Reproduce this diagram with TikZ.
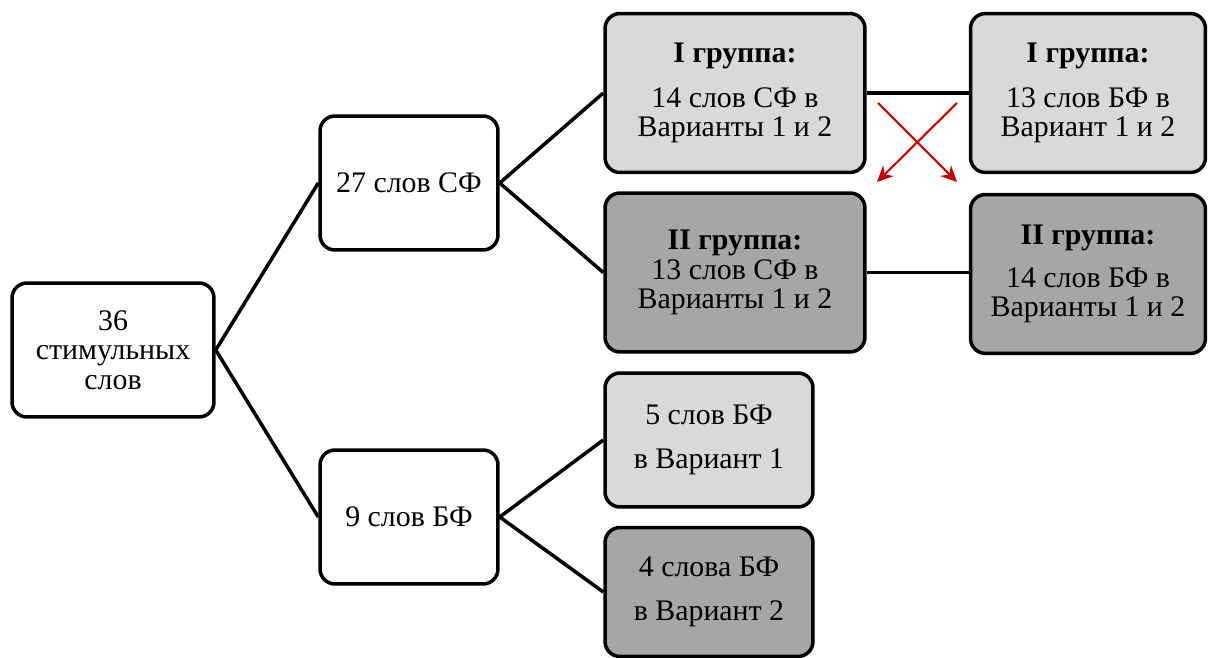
\documentclass[tikz,border=0pt]{standalone}
\usepackage{fontspec}
\setmainfont{Liberation Serif}
\usetikzlibrary{arrows.meta}
\definecolor{lightgr}{HTML}{D9D9D9}
\definecolor{darkgr}{HTML}{A6A6A6}
\definecolor{arrowred}{HTML}{C00000}
\begin{document}
\begin{tikzpicture}[x=0.02cm,y=-0.02cm,
    box/.style={draw=black,line width=2pt,rounded corners=0.3cm,align=center,
      inner sep=0pt,font=\fontsize{17}{16.8}\selectfont},
    wordbox/.style={box,fill=white,minimum width=3.56cm,minimum height=2.68cm},
    groupbox/.style={box,minimum height=3.18cm},
    link/.style={line width=2pt}]
  \useasboundingbox (0,0) rectangle (1208,658);
  % tree of boxes
  \node[box,fill=white,minimum width=4.04cm,minimum height=2.68cm] (all) at (113,350) {36\\стимульных\\слов};
  \node[wordbox] (sf) at (409,183) {27 слов СФ};
  \node[wordbox] (bf) at (409,517) {9 слов БФ};
  \node[groupbox,fill=lightgr,minimum width=5.2cm] (sfone) at (735,93) {\textbf{I группа:}\\[0.3cm]14 слов СФ в\\Варианты 1 и 2};
  \node[groupbox,fill=darkgr,minimum width=5.2cm] (sftwo) at (735,272.5) {\textbf{II группа:}\\13 слов СФ в\\Варианты 1 и 2};
  \node[groupbox,fill=lightgr,minimum width=4.7cm] (bfone) at (1088,93) {\textbf{I группа:}\\[0.3cm]13 слов БФ в\\Вариант 1 и 2};
  \node[groupbox,fill=darkgr,minimum width=4.7cm] (bftwo) at (1088,274) {\textbf{II группа:}\\[0.26cm]14 слов БФ в\\Варианты 1 и 2};
  \node[box,fill=lightgr,minimum width=4.16cm,minimum height=2.68cm] (bfvone) at (709,440) {5 слов БФ\\[0.3cm]в Вариант 1};
  \node[box,fill=darkgr,minimum width=4.16cm,minimum height=2.58cm] (bfvtwo) at (709,592) {4 слова БФ\\[0.3cm]в Вариант 2};
  % connectors
  \draw[link] (all.east) -- (sf.west);
  \draw[link] (all.east) -- (bf.west);
  \draw[link] (sf.east) -- (sfone.west);
  \draw[link] (sf.east) -- (sftwo.west);
  \draw[link] (bf.east) -- (bfvone.west);
  \draw[link] (bf.east) -- (bfvtwo.west);
  \draw[link] (sfone.east) -- (bfone.west);
  \draw[link] (sftwo.east) -- (bftwo.west |- sftwo.east);
  % crossing arrows
  \coordinate (crossa) at (878,103);
  \coordinate (crossb) at (957,103);
  \coordinate (crossc) at (957,182);
  \coordinate (crossd) at (877,182);
  \draw[arrowred,line width=1.2pt,-{Stealth[length=0.32cm,width=0.3cm]}] (crossa) -- (crossc);
  \draw[arrowred,line width=1.2pt,-{Stealth[length=0.32cm,width=0.3cm]}] (crossb) -- (crossd);
\end{tikzpicture}
\end{document}
